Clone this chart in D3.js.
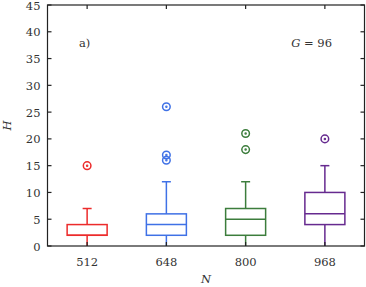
<!DOCTYPE html>
<html>
<head>
<meta charset="utf-8">
<script src="https://cdn.jsdelivr.net/npm/d3@7"></script>
<style>
body { margin: 0; background: #fff; }
</style>
</head>
<body>
<script>
// box stats
const categories = ["512", "648", "800", "968"];
const lowWhisk = [0, 0, 0, 0];
const q1 = [2, 2, 2, 4];
const median = [2, 4, 5, 6];
const q3 = [4, 6, 7, 10];
const highWhisk = [7, 12, 12, 15];
const outliers = [[15], [26, 17, 16], [21, 18], [20]];
const colors = ["#ec2b2b", "#3f71e6", "#3c7d3c", "#662a8f"];
const yTicks = [0, 5, 10, 15, 20, 25, 30, 35, 40, 45];

const W = 366, H = 287;
const m = { left: 47.5, right: 1.5, top: 5, bottom: 41 };
const FONT = "DejaVu Serif";
const FS = 11.5;

const svg = d3.select("body").append("svg")
	.attr("width", W)
	.attr("height", H)
	.style("font-family", FONT);

const x = d3.scaleBand()
	.domain(categories)
	.range([m.left, W - m.right]);

const y = d3.scaleLinear()
	.domain([0, 45])
	.range([H - m.bottom, m.top]);

const bw = 40;

const boxes = svg.append("g")
	.selectAll("g")
	.data(categories)
	.enter().append("g")
	.attr("stroke", (d, i) => colors[i])
	.attr("fill", "none")
	.attr("stroke-width", 1.5);

const cx = d => x(d) + x.bandwidth() / 2;

boxes.append("line")
	.attr("x1", cx).attr("x2", cx)
	.attr("y1", (d, i) => y(lowWhisk[i]))
	.attr("y2", (d, i) => y(q1[i]));

boxes.append("line")
	.attr("x1", cx).attr("x2", cx)
	.attr("y1", (d, i) => y(q3[i]))
	.attr("y2", (d, i) => y(highWhisk[i]));

boxes.append("line")
	.attr("x1", d => cx(d) - 4.5).attr("x2", d => cx(d) + 4.5)
	.attr("y1", (d, i) => y(highWhisk[i]))
	.attr("y2", (d, i) => y(highWhisk[i]));

boxes.append("rect")
	.attr("x", d => cx(d) - bw / 2)
	.attr("width", bw)
	.attr("y", (d, i) => y(q3[i]))
	.attr("height", (d, i) => y(q1[i]) - y(q3[i]));

boxes.append("line")
	.attr("x1", d => cx(d) - bw / 2).attr("x2", d => cx(d) + bw / 2)
	.attr("y1", (d, i) => y(median[i]))
	.attr("y2", (d, i) => y(median[i]));

boxes.each(function(d, i) {
	const g = d3.select(this);
	for (let v of outliers[i]) {
		g.append("circle")
			.attr("cx", cx(d))
			.attr("cy", y(v))
			.attr("r", 3.8);
		g.append("circle")
			.attr("cx", cx(d))
			.attr("cy", y(v))
			.attr("r", 0.5)
			.attr("fill", colors[i]);
	}
});

// frame and ticks
const frame = svg.append("g").attr("stroke", "#222").attr("stroke-width", 1.2);

frame.append("rect")
	.attr("x", m.left).attr("y", m.top)
	.attr("width", W - m.right - m.left)
	.attr("height", H - m.bottom - m.top)
	.attr("fill", "none");

for (let t of yTicks) {
	frame.append("line").attr("x1", m.left).attr("x2", m.left + 4).attr("y1", y(t)).attr("y2", y(t));
	frame.append("line").attr("x1", W - m.right).attr("x2", W - m.right - 4).attr("y1", y(t)).attr("y2", y(t));
}
for (let c of categories) {
	frame.append("line").attr("x1", cx(c)).attr("x2", cx(c)).attr("y1", m.top).attr("y2", m.top + 4);
	frame.append("line").attr("x1", cx(c)).attr("x2", cx(c)).attr("y1", H - m.bottom).attr("y2", H - m.bottom - 4);
}

svg.append("g")
	.selectAll("text")
	.data(yTicks)
	.enter().append("text")
	.attr("x", m.left - 7)
	.attr("y", d => y(d) + 4.5)
	.attr("text-anchor", "end")
	.attr("font-size", FS)
	.attr("fill", "#333")
	.text(d => d);

svg.append("g")
	.selectAll("text")
	.data(categories)
	.enter().append("text")
	.attr("x", cx)
	.attr("y", H - m.bottom + 20)
	.attr("text-anchor", "middle")
	.attr("font-size", FS)
	.attr("fill", "#333")
	.text(d => d);

svg.append("text")
	.attr("x", (m.left + W - m.right) / 2)
	.attr("y", 283)
	.attr("text-anchor", "middle")
	.attr("font-size", FS)
	.attr("font-style", "italic")
	.attr("fill", "#333")
	.text("N");

svg.append("text")
	.attr("transform", `translate(11,${(m.top + H - m.bottom) / 2}) rotate(-90)`)
	.attr("text-anchor", "middle")
	.attr("font-size", FS)
	.attr("font-style", "italic")
	.attr("fill", "#333")
	.text("H");

svg.append("text")
	.attr("x", 79)
	.attr("y", 47)
	.attr("font-size", FS)
	.attr("fill", "#333")
	.text("a)");

const gl = svg.append("text")
	.attr("x", 332)
	.attr("y", 47)
	.attr("text-anchor", "end")
	.attr("font-size", FS)
	.attr("fill", "#333");
gl.append("tspan").attr("font-style", "italic").text("G");
gl.append("tspan").text(" = 96");
</script>
</body>
</html>
